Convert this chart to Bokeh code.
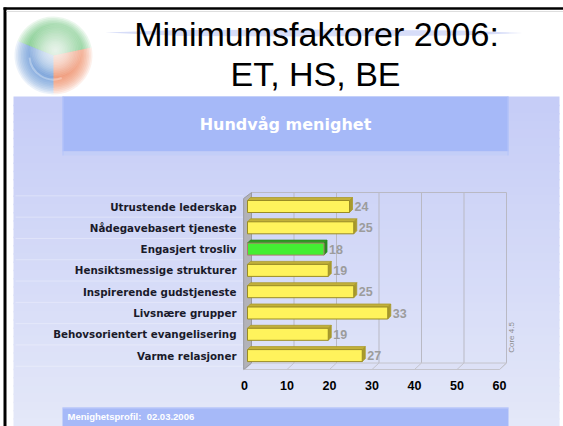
import numpy as np
from bokeh.plotting import figure
from bokeh.models import Range1d
from bokeh.core.properties import value
from bokeh.embed import file_html
from bokeh.resources import INLINE

# ---------------- data ----------------
categories = ["Utrustende lederskap", "Nådegavebasert tjeneste", "Engasjert trosliv",
              "Hensiktsmessige strukturer", "Inspirerende gudstjeneste", "Livsnære grupper",
              "Behovsorientert evangelisering", "Varme relasjoner"]
scores = [24, 25, 18, 19, 25, 33, 19, 27]
minimum_factor = "Engasjert trosliv"
x_ticks = [0, 10, 20, 30, 40, 50, 60]
x_tick_labels = ["0", "10", "20", "30", "40", "50", "60"]
title_lines = ["Minimumsfaktorer 2006:", "ET, HS, BE"]
chart_title = "Hundvåg menighet"
footer_text = "Menighetsprofil:\u00a0\u00a002.03.2006"
watermark = "Core 4.5"

# ---------------- layout constants ----------------
W, H = 563, 426
PX_PER_UNIT = 4.25      # pixels per score unit
X0_PX = 247             # pixel of score 0 (bar plane)
ROW0_PX = 206           # pixel (from top) of first category centre
ROW_PX = 21.3           # pixels per category row
FRONT = -3.0 / PX_PER_UNIT   # front plane offset (value units)
BACK = 4.0 / PX_PER_UNIT     # back wall offset (value units)
FRONT_Y, BACK_Y, TOP_Y = 369, 362.5, 192


def Y(py):
    return H - py


p = figure(width=W, height=H, x_range=Range1d(0, W), y_range=Range1d(0, H),
           output_backend="svg", toolbar_location=None, min_border=0,
           x_axis_location=None, y_axis_location=None,
           outline_line_color=None, background_fill_color="white",
           border_fill_color="white")
p.grid.visible = False
p.extra_x_ranges = {"val": Range1d(-X0_PX / PX_PER_UNIT, (W - X0_PX) / PX_PER_UNIT)}
p.extra_y_ranges = {"cat": Range1d(start=(H - ROW0_PX) / ROW_PX, end=-ROW0_PX / ROW_PX)}

# ---------------- page decoration ----------------
# gradient panel (overlapping strips to avoid seams)
top_c = np.array([0xc6, 0xcd, 0xf7])
bot_c = np.array([0xe4, 0xe8, 0xf9])
n_strips = 40
edges = np.linspace(96, H, n_strips + 1)
cols = []
for k in range(n_strips):
    t = k / (n_strips - 1)
    c = (top_c * (1 - t) + bot_c * t).astype(int)
    cols.append("#%02x%02x%02x" % tuple(c))
p.quad(left=13, right=559, top=[Y(e) for e in edges[:-1]],
       bottom=[max(Y(e) - 1.5, 0) for e in edges[1:]],
       fill_color=cols, line_color=None)

# header band
p.quad(left=62, right=508, top=Y(96), bottom=Y(151), fill_color="#a6b9f8", line_color=None)
p.quad(left=62, right=508, top=Y(151), bottom=Y(155), fill_color="#c3cef8", line_color=None)
p.segment(x0=[62.5, 507.5], y0=[Y(96)] * 2, x1=[62.5, 507.5], y1=[Y(155)] * 2,
          line_color="#b6c5fa", line_width=1)
p.text(x=[285], y=[Y(124)], text=[chart_title], text_color="white",
       text_font=value("DejaVu Sans"), text_font_style="bold", text_font_size="16px",
       text_align="center", text_baseline="alphabetic")

# footer band
p.quad(left=62, right=508, top=Y(407), bottom=0, fill_color="#a6b9f8", line_color=None)
p.segment(x0=[62], y0=[Y(407.5)], x1=[508], y1=[Y(407.5)], line_color="#c0ccfa", line_width=1)
p.text(x=[67], y=[Y(416)], text=[footer_text], text_color="white",
       text_font=value("Liberation Sans"), text_font_style="bold", text_font_size="9.5px",
       text_align="left", text_baseline="alphabetic")

# black frame lines
p.segment(x0=[4.5], y0=[Y(7)], x1=[4.5], y1=[0], line_color="black", line_width=3)
p.segment(x0=[3], y0=[Y(8)], x1=[W], y1=[Y(8)], line_color="black", line_width=2.5)
p.segment(x0=[6], y0=[Y(11)], x1=[W], y1=[Y(11)], line_color="#dedede", line_width=1)

# logo (soft layered wedges + white glow)
cx, cy = 53, Y(55)
for rr in np.linspace(39, 18, 14):
    a = 0.12
    p.annular_wedge(x=cx, y=cy, inner_radius=0, outer_radius=rr, start_angle=np.radians(12),
                    end_angle=np.radians(158), fill_color="#5dbb6e", line_color=None, fill_alpha=a)
    p.annular_wedge(x=cx, y=cy, inner_radius=0, outer_radius=rr, start_angle=np.radians(158),
                    end_angle=np.radians(270), fill_color="#6690d6", line_color=None, fill_alpha=a)
    p.annular_wedge(x=cx, y=cy, inner_radius=0, outer_radius=rr, start_angle=np.radians(-90),
                    end_angle=np.radians(12), fill_color="#ec8358", line_color=None, fill_alpha=a)
for rr in np.linspace(26, 2, 16):
    p.circle(x=cx + 2, y=cy + 5, radius=rr, fill_color="white", fill_alpha=0.11, line_color=None)
p.arc(x=cx, y=cy, radius=[24], start_angle=np.radians(185), end_angle=np.radians(290),
      line_color="white", line_alpha=0.3, line_width=2)

# title swoosh
p.patch(x=[105, 180, 300, 460, 522, 460, 300, 180],
        y=[Y(32), Y(29.5), Y(29), Y(30), Y(32.5), Y(35), Y(36), Y(35.5)],
        fill_color="#cdd4f6", fill_alpha=0.8, line_color=None)

# title text
p.text(x=[316, 315], y=[Y(33), Y(73)], text=title_lines, text_color="black",
       text_font=value("Liberation Sans"), text_font_size="34px",
       text_align="center", text_baseline="alphabetic")

# ---------------- chart ----------------
n = len(categories)
idx = np.arange(n)
vals = np.array(scores, dtype=float)

# row separators (faint)
seps = np.arange(-0.5, n, 1.0)
p.segment(x0=15, x1=243, y0=seps, y1=seps, y_range_name="cat",
          line_color="white", line_alpha=0.3, line_width=1)

# back wall grid + top edge
gx = np.array(x_ticks[1:], dtype=float) + BACK
p.segment(x0=gx, y0=Y(TOP_Y), x1=gx, y1=Y(BACK_Y), x_range_name="val",
          line_color="#b9b9c4", line_width=1)
p.segment(x0=[x_ticks[0] + BACK], y0=[Y(TOP_Y)], x1=[x_ticks[-1] + BACK], y1=[Y(TOP_Y)],
          x_range_name="val", line_color="#b9b9c4", line_width=1)

# floor
p.patch(x=[x_ticks[0] + FRONT, x_ticks[0] + BACK, x_ticks[-1] + BACK, x_ticks[-1] + FRONT],
        y=[Y(FRONT_Y), Y(BACK_Y), Y(BACK_Y), Y(FRONT_Y)], x_range_name="val",
        fill_color="#dde1f6", line_color="#c4c4cc", line_width=1)
tx = np.array(x_ticks, dtype=float)
p.segment(x0=tx + FRONT, y0=Y(FRONT_Y), x1=tx + BACK, y1=Y(BACK_Y), x_range_name="val",
          line_color="#c4c4cc", line_width=1)

# left wall
p.patch(x=[x_ticks[0] + FRONT - 0.2, x_ticks[0] + BACK, x_ticks[0] + BACK, x_ticks[0] + FRONT - 0.2],
        y=[Y(FRONT_Y), Y(BACK_Y), Y(TOP_Y), Y(TOP_Y + 6)], x_range_name="val",
        fill_color="#b2b2b8", line_color="#9a9aa0", line_width=1)

# bars
hh = 6.0 / ROW_PX
dyu = 3.0 / ROW_PX
dxu = 3.0 / PX_PER_UNIT
is_min = [c == minimum_factor for c in categories]
face = ["#44ee33" if m else "#fff35c" for m in is_min]
topc = ["#2f9a24" if m else "#c2b03a" for m in is_min]
capc = ["#2a8a20" if m else "#a99a2c" for m in is_min]
edge = ["#b07a70" if m else "#9a8c24" for m in is_min]

top_xs = [[0, dxu, v + dxu, v] for v in vals]
top_ys = [[i - hh, i - hh - dyu, i - hh - dyu, i - hh] for i in idx]
p.patches(xs=top_xs, ys=top_ys, x_range_name="val", y_range_name="cat",
          fill_color=topc, line_color=capc, line_width=0.8)
cap_xs = [[v, v + dxu, v + dxu, v] for v in vals]
cap_ys = [[i - hh, i - hh - dyu, i + hh - dyu, i + hh] for i in idx]
p.patches(xs=cap_xs, ys=cap_ys, x_range_name="val", y_range_name="cat",
          fill_color=capc, line_color=capc, line_width=0.8)
p.hbar(y=idx, left=0, right=vals, height=2 * hh, x_range_name="val", y_range_name="cat",
       fill_color=face, line_color=edge, line_width=1)

# value labels
p.text(x=vals + dxu + 2.0 / PX_PER_UNIT, y=idx, text=[str(s) for s in scores],
       x_range_name="val", y_range_name="cat", text_color="#9c9c9c",
       text_font=value("Liberation Sans"), text_font_style="bold", text_font_size="12.5px",
       text_align="left", text_baseline="middle")

# category labels
p.text(x=236, y=idx, text=categories, y_range_name="cat", text_color="#1a1a2a",
       text_font=value("DejaVu Sans"), text_font_style="bold", text_font_size="10.3px",
       text_align="right", text_baseline="middle")

# x tick labels
p.text(x=tx + FRONT, y=Y(385), text=x_tick_labels, x_range_name="val", text_color="black",
       text_font=value("Liberation Sans"), text_font_style="bold", text_font_size="12.5px",
       text_align="center", text_baseline="middle")

# watermark
p.text(x=[511], y=[Y(337)], text=[watermark], angle=np.pi / 2, text_color="#8c8c8c",
       text_font=value("Liberation Sans"), text_font_size="8px",
       text_align="center", text_baseline="middle")

open("out.html", "w").write(file_html(p, INLINE))
